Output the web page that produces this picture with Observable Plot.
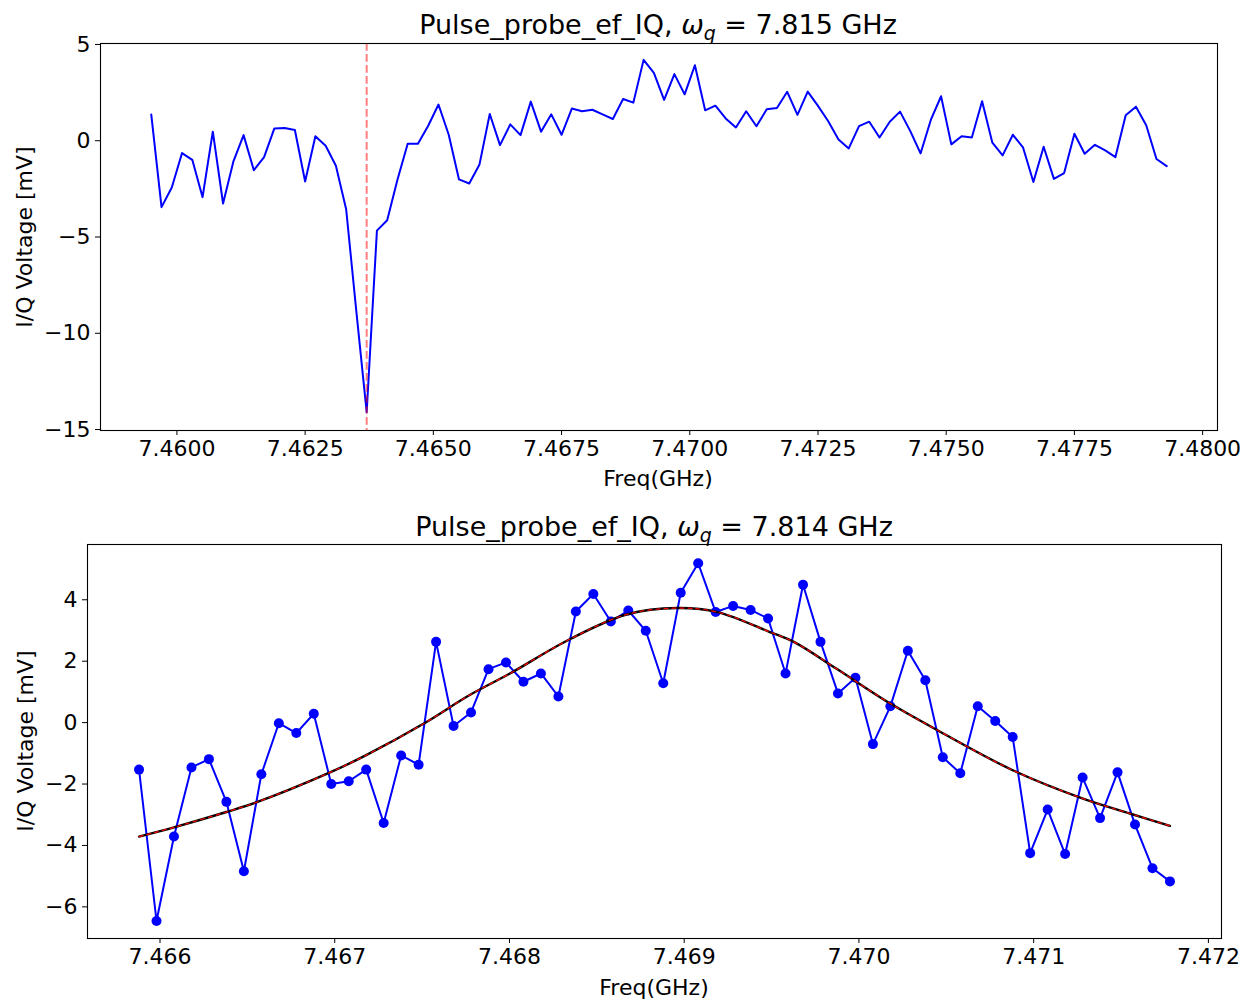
<!DOCTYPE html>
<html><head><meta charset="utf-8">
<script src="https://cdn.jsdelivr.net/npm/d3@7"></script>
<script src="https://cdn.jsdelivr.net/npm/@observablehq/plot@0.6"></script>
<style>
body{margin:0;background:#fff;}
#wrap{position:relative;width:1245px;height:1001px;font-family:"DejaVu Sans",sans-serif;color:#000;overflow:hidden;}
.abs{position:absolute;white-space:nowrap;line-height:1;transform:translate(-50%,-50%);}
.title{font-size:27px;}
.lab{font-size:22px;}
.ylab{transform:translate(-50%,-50%) rotate(-90deg);}
.chart{position:absolute;left:0;}
.sub{font-size:0.7em;position:relative;top:0.3em;font-style:italic;}
</style></head><body>
<div id="wrap">
  <div id="c1" class="chart" style="top:0px"></div>
  <div id="c2" class="chart" style="top:480px"></div>
  <div class="abs title" style="left:658px;top:24px">Pulse_probe_ef_IQ, <i>ω</i><span class="sub">q</span> = 7.815 GHz</div>
  <div class="abs title" style="left:654px;top:526px">Pulse_probe_ef_IQ, <i>ω</i><span class="sub">q</span> = 7.814 GHz</div>
  <div class="abs lab" style="left:658px;top:479px">Freq(GHz)</div>
  <div class="abs lab" style="left:654px;top:988px">Freq(GHz)</div>
  <div class="abs lab ylab" style="left:25px;top:237px">I/Q Voltage [mV]</div>
  <div class="abs lab ylab" style="left:26px;top:741px">I/Q Voltage [mV]</div>
</div>
<script>
// ---- Top panel data ----
const topFreq = [
7.4595,7.4597,7.4599,7.4601,7.4603,7.4605,7.4607,7.4609,7.4611,7.4613,
7.4615,7.4617,7.4619,7.4621,7.4623,7.4625,7.4627,7.4629,7.4631,7.4633,
7.4635,7.4637,7.4639,7.4641,7.4643,7.4645,7.4647,7.4649,7.4651,7.4653,
7.4655,7.4657,7.4659,7.4661,7.4663,7.4665,7.4667,7.4669,7.4671,7.4673,
7.4675,7.4677,7.4679,7.4681,7.4683,7.4685,7.4687,7.4689,7.4691,7.4693,
7.4695,7.4697,7.4699,7.4701,7.4703,7.4705,7.4707,7.4709,7.4711,7.4713,
7.4715,7.4717,7.4719,7.4721,7.4723,7.4725,7.4727,7.4729,7.4731,7.4733,
7.4735,7.4737,7.4739,7.4741,7.4743,7.4745,7.4747,7.4749,7.4751,7.4753,
7.4755,7.4757,7.4759,7.4761,7.4763,7.4765,7.4767,7.4769,7.4771,7.4773,
7.4775,7.4777,7.4779,7.4781,7.4783,7.4785,7.4787,7.4789,7.4791,7.4793];
const topVolt = [
1.36,-3.45,-2.43,-0.64,-0.99,-2.93,0.47,-3.26,-1.09,0.29,
-1.53,-0.85,0.64,0.66,0.56,-2.12,0.23,-0.26,-1.30,-3.56,
-8.9,-14.1,-4.67,-4.13,-2.03,-0.16,-0.16,0.78,1.88,0.31,
-2.01,-2.22,-1.23,1.39,-0.23,0.85,0.29,2.03,0.47,1.37,
0.31,1.67,1.53,1.61,1.37,1.13,2.17,1.98,4.20,3.52,
2.12,3.46,2.41,3.92,1.58,1.82,1.16,0.69,1.53,0.75,
1.63,1.70,2.54,1.34,2.55,1.81,1.01,0.07,-0.40,0.76,
0.99,0.17,0.99,1.51,0.50,-0.66,1.08,2.31,-0.19,0.23,
0.17,2.05,-0.10,-0.76,0.31,-0.36,-2.14,-0.31,-1.98,-1.68,
0.36,-0.68,-0.21,-0.50,-0.85,1.32,1.77,0.80,-0.95,-1.32];
const dipFreq = [7.4637];
const topXTicks = [7.4600,7.4625,7.4650,7.4675,7.4700,7.4725,7.4750,7.4775,7.4800];
const topYTicks = [-15,-10,-5,0,5];

// ---- Bottom panel data ----
const botFreq = [
7.46588,7.46598,7.46608,7.46618,7.46628,7.46638,7.46648,7.46658,7.46668,7.46678,
7.46688,7.46698,7.46708,7.46718,7.46728,7.46738,7.46748,7.46758,7.46768,7.46778,
7.46788,7.46798,7.46808,7.46818,7.46828,7.46838,7.46848,7.46858,7.46868,7.46878,
7.46888,7.46898,7.46908,7.46918,7.46928,7.46938,7.46948,7.46958,7.46968,7.46978,
7.46988,7.46998,7.47008,7.47018,7.47028,7.47038,7.47048,7.47058,7.47068,7.47078,
7.47088,7.47098,7.47108,7.47118,7.47128,7.47138,7.47148,7.47158,7.47168,7.47178];
const botVolt = [
-1.53,-6.46,-3.71,-1.46,-1.19,-2.58,-4.84,-1.68,-0.02,-0.34,
0.29,-2.00,-1.91,-1.53,-3.27,-1.07,-1.37,2.63,-0.11,0.33,
1.74,1.96,1.33,1.60,0.85,3.62,4.19,3.29,3.65,2.99,
1.28,4.23,5.19,3.60,3.80,3.67,3.39,1.60,4.49,2.63,
0.95,1.46,-0.70,0.53,2.34,1.38,-1.13,-1.65,0.53,0.05,
-0.47,-4.25,-2.83,-4.28,-1.79,-3.11,-1.62,-3.32,-4.74,-5.17];
const fitFreq = [7.46588,7.46608,7.46638,7.46655,7.46697,7.46718,7.46751,7.46777,7.46800,7.46835,7.46867,
7.46896,7.46919,7.46949,7.46963,7.46987,7.47018,7.47045,7.47088,7.47127,7.47155,7.47178];
const fitVolt = [-3.71,-3.41,-2.91,-2.60,-1.63,-1.06,-0.03,0.89,1.59,2.73,3.52,
3.73,3.60,2.95,2.62,1.76,0.62,-0.25,-1.55,-2.45,-2.96,-3.36];
const botXTicks = [7.466,7.467,7.468,7.469,7.470,7.471,7.472];
const botYTicks = [-6,-4,-2,0,2,4];

const topData = topFreq.map((f,i)=>({f, v: topVolt[i]}));
const botData = botFreq.map((f,i)=>({f, v: botVolt[i]}));
const fitData = fitFreq.map((f,i)=>({f, v: fitVolt[i]}));

const style = {fontFamily:"DejaVu Sans", fontSize:"22px", background:"white", color:"black", overflow:"visible"};

const p1 = Plot.plot({
  width:1245, height:480, marginTop:43, marginBottom:50, marginLeft:100, marginRight:28,
  style,
  x:{domain:[7.45851,7.48029], ticks:topXTicks, tickFormat:d3.format(".4f"), tickSize:5, tickPadding:5, label:null},
  y:{domain:[-15.05,5.05], ticks:topYTicks, tickFormat:d3.format("d"), tickSize:5, tickPadding:5, label:null},
  marks:[
    Plot.line(topData,{x:"f",y:"v",stroke:"#0000ff",strokeWidth:2}),
    Plot.ruleX(dipFreq,{stroke:"#ff0000",strokeOpacity:0.5,strokeWidth:2,strokeDasharray:"7.7,3.3"}),
    Plot.frame({stroke:"black",strokeWidth:1.1})
  ]
});
document.getElementById("c1").appendChild(p1);

const p2 = Plot.plot({
  width:1245, height:521, marginTop:64, marginBottom:63, marginLeft:87, marginRight:24,
  style,
  x:{domain:[7.465585,7.472075], ticks:botXTicks, tickFormat:d3.format(".3f"), tickSize:5, tickPadding:5, label:null},
  y:{domain:[-7.03,5.80], ticks:botYTicks, tickFormat:d3.format("d"), tickSize:5, tickPadding:5, label:null},
  marks:[
    Plot.line(botData,{x:"f",y:"v",stroke:"#0000ff",strokeWidth:2}),
    Plot.dot(botData,{x:"f",y:"v",r:5,fill:"#0000ff",stroke:"none"}),
    Plot.line(fitData,{x:"f",y:"v",stroke:"black",strokeWidth:2.4,curve:"catmull-rom"}),
    Plot.line(fitData,{x:"f",y:"v",stroke:"#ff0000",strokeWidth:1.2,strokeDasharray:"4,4",curve:"catmull-rom"}),
    Plot.frame({stroke:"black",strokeWidth:1.1})
  ]
});
document.getElementById("c2").appendChild(p2);
</script>
</body></html>
